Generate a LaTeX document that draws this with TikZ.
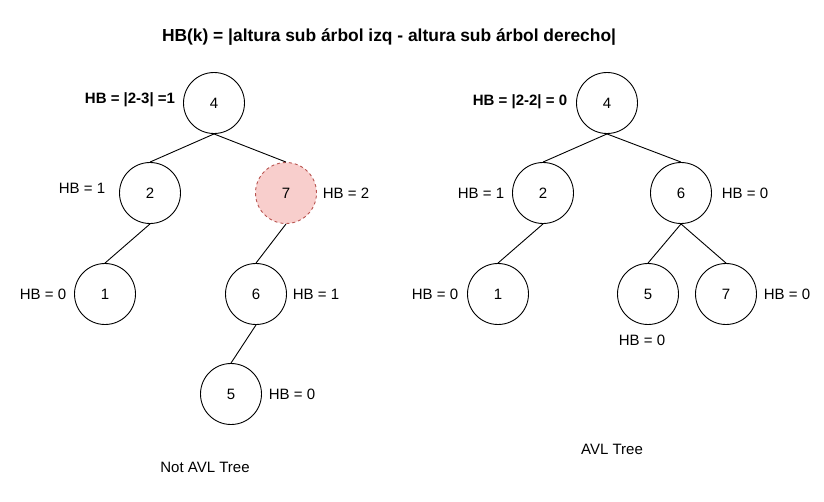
\documentclass[tikz,border=0pt]{standalone}
\usepackage{fontspec}
\setmainfont{Liberation Sans}
\definecolor{badfill}{HTML}{F8CECC}
\definecolor{baddraw}{HTML}{B85450}
\tikzset{
	treenode/.style={draw, circle, line width=0.9pt, minimum size=61pt, inner sep=0pt, font=\fontsize{15}{18}\selectfont},
	badnode/.style={treenode, fill=badfill, draw=baddraw, dashed},
	hblabel/.style={font=\fontsize{15}{18}\selectfont},
	hbbold/.style={font=\bfseries\fontsize{15}{18}\selectfont},
	edge/.style={line width=0.9pt}
}
\begin{document}
\begin{tikzpicture}[x=1pt, y=-1pt]
	\useasboundingbox (0, 0) rectangle (824, 501);
	\node[font=\bfseries\fontsize{17.4}{21}\selectfont] at (389, 37) (title) {HB(k) = |altura sub árbol izq - altura sub árbol derecho|};
	% not AVL tree
	\node[treenode] at (214, 103)   (a4) {4};
	\node[treenode] at (150, 193)   (a2) {2};
	\node[badnode] at (286, 193)   (a7) {7};
	\node[treenode] at (105, 294)   (a1) {1};
	\node[treenode] at (256, 294)   (a6) {6};
	\node[treenode] at (231, 394)   (a5) {5};
	\draw[edge] (a4.south) -- (a2.north);
	\draw[edge] (a4.south) -- (a7.north);
	\draw[edge] (a2.south) -- (a1.north);
	\draw[edge] (a7.south) -- (a6.north);
	\draw[edge] (a6.south) -- (a5.north);
	\node[hbbold] at (130, 100)   (ha4) {HB = |2-3| =1};
	\node[hblabel] at (82, 188)   (ha2) {HB = 1};
	\node[hblabel] at (346, 193)   (ha7) {HB = 2};
	\node[hblabel] at (43, 294)   (ha1) {HB = 0};
	\node[hblabel] at (316, 294)   (ha6) {HB = 1};
	\node[hblabel] at (292, 394)   (ha5) {HB = 0};
	\node[hblabel] at (205, 467)   (notavl) {Not AVL Tree};
	% AVL tree
	\node[treenode] at (607, 103)   (b4) {4};
	\node[treenode] at (543, 193)   (b2) {2};
	\node[treenode] at (681, 193)   (b6) {6};
	\node[treenode] at (498, 294)   (b1) {1};
	\node[treenode] at (648, 294)   (b5) {5};
	\node[treenode] at (726, 294)   (b7) {7};
	\draw[edge] (b4.south) -- (b2.north);
	\draw[edge] (b4.south) -- (b6.north);
	\draw[edge] (b2.south) -- (b1.north);
	\draw[edge] (b6.south) -- (b5.north);
	\draw[edge] (b6.south) -- (b7.north);
	\node[hbbold] at (520, 102)   (hb4) {HB = |2-2| = 0};
	\node[hblabel] at (481, 193)   (hb2) {HB = 1};
	\node[hblabel] at (745, 193)   (hb6) {HB = 0};
	\node[hblabel] at (435, 294)   (hb1) {HB = 0};
	\node[hblabel] at (642, 340)   (hb5) {HB = 0};
	\node[hblabel] at (787, 294)   (hb7) {HB = 0};
	\node[hblabel] at (612, 449)   (avl) {AVL Tree};
\end{tikzpicture}
\end{document}
